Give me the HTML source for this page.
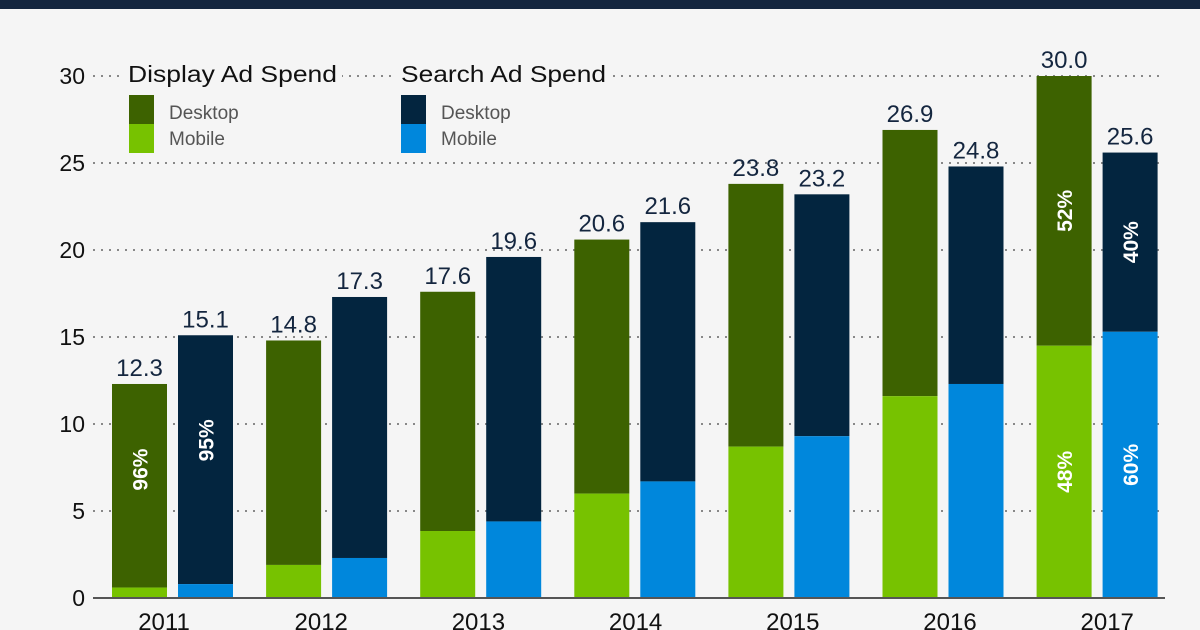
<!DOCTYPE html>
<html><head><meta charset="utf-8"><style>
html,body{margin:0;padding:0;background:#f5f5f5;}
svg{display:block;font-family:"Liberation Sans",sans-serif;}
</style></head><body>
<svg id="c" width="1200" height="630">
<rect x="0" y="0" width="1200" height="630" fill="#f5f5f5"/>
<rect x="0" y="0" width="1200" height="9" fill="#14263f"/>
<g id="grid"></g><g id="bars"></g>
<g>
<rect x="124" y="58" width="218" height="30" fill="#f5f5f5"/>
<rect x="396" y="58" width="214" height="30" fill="#f5f5f5"/>
<text x="128" y="82" font-size="23" fill="#111" textLength="209" lengthAdjust="spacingAndGlyphs">Display Ad Spend</text>
<text x="401" y="82" font-size="23" fill="#111" textLength="205" lengthAdjust="spacingAndGlyphs">Search Ad Spend</text>
<rect x="129" y="95" width="25" height="29" fill="#3d6200"/>
<rect x="129" y="124" width="25" height="29" fill="#77c200"/>
<rect x="401" y="95" width="25" height="29" fill="#03253f"/>
<rect x="401" y="124" width="25" height="29" fill="#0087dc"/>
<text x="169" y="119" font-size="19" fill="#555">Desktop</text>
<text x="169" y="145" font-size="19" fill="#555">Mobile</text>
<text x="441" y="119" font-size="19" fill="#555">Desktop</text>
<text x="441" y="145" font-size="19" fill="#555">Mobile</text>
</g>
</svg>
<script>
const years=["2011","2012","2013","2014","2015","2016","2017"];
const displayTotal=[12.3,14.8,17.6,20.6,23.8,26.9,30.0];
const displayMobile=[0.6,1.9,3.85,6.0,8.7,11.6,14.5];
const searchTotal=[15.1,17.3,19.6,21.6,23.2,24.8,25.6];
const searchMobile=[0.8,2.3,4.4,6.7,9.3,12.3,15.3];
const yTicks=[0,5,10,15,20,25,30];
const pctLabels={0:["96%",null,"95%",null],6:["52%","48%","40%","60%"]};
const NS="http://www.w3.org/2000/svg";
const y=v=>598-v*17.4;
const gx=i=>112+i*154.1;
const lx=i=>164+i*157.2;
function mk(t,a,p){const e=document.createElementNS(NS,t);for(const k in a)e.setAttribute(k,a[k]);p.appendChild(e);return e;}
const grid=document.getElementById('grid'),bars=document.getElementById('bars');
yTicks.forEach(v=>{
  if(v>0){const l=mk('line',{x1:93,x2:1165,y1:y(v),y2:y(v),stroke:'#888','stroke-width':2,'stroke-dasharray':'2 6'},grid);
  
  }
  const t=mk('text',{x:85,y:y(v)+8,'font-size':23,fill:'#111','text-anchor':'end'},grid);t.textContent=v;
  
  
});
function rot(g,x,cy,txt){
  const a=mk('text',{x:x,y:cy,'font-size':21,'font-weight':'bold',fill:'#fff','text-anchor':'middle',transform:`rotate(-90 ${x} ${cy})`,dy:8},g);a.textContent=txt;
}
function bar(x,tot,mob,dc,mc,name,lbls){
  const g=mk('g',{},bars);
  
  
  mk('rect',{x:x,y:y(tot),width:55,height:y(mob)-y(tot),fill:dc},g);
  mk('rect',{x:x,y:y(mob),width:55,height:598-y(mob),fill:mc},g);
  const t=mk('text',{x:x+27.5,y:y(tot)-8,'font-size':24,fill:'#14263f','text-anchor':'middle'},g);t.textContent=tot.toFixed(1);
  if(lbls){
    if(lbls[1]){rot(g,x+27.5,(y(tot)+y(mob))/2,lbls[0]);rot(g,x+27.5,(y(mob)+598)/2,lbls[1]);}
    else if(lbls[0]){rot(g,x+27.5,y(tot*0.6),lbls[0]);}
  }
}
years.forEach((yr,i)=>{
  const p=pctLabels[i];
  bar(gx(i),displayTotal[i],displayMobile[i],'#3d6200','#77c200','bar-display-'+yr,p?[p[0],p[1]]:null);
  bar(gx(i)+66,searchTotal[i],searchMobile[i],'#03253f','#0087dc','bar-search-'+yr,p?[p[2],p[3]]:null);
  const t=mk('text',{x:lx(i),y:630,'font-size':24,fill:'#111','text-anchor':'middle'},bars);t.textContent=yr;
  
  
});
const ax=mk('line',{x1:93,x2:1165,y1:598,y2:598,stroke:'#555','stroke-width':2},bars);


</script>
</body></html>
